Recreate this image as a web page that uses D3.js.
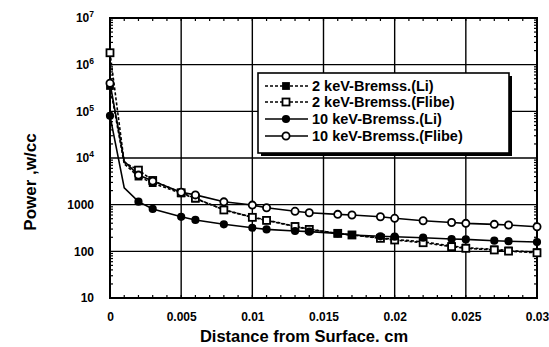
<!DOCTYPE html>
<html><head><meta charset="utf-8">
<script src="https://cdn.jsdelivr.net/npm/d3@7"></script>
<style>body{margin:0;background:#fff}svg{display:block}text{font-family:"Liberation Sans",Arial,sans-serif;font-weight:bold;fill:#000}</style>
</head><body><div id="chart"></div>
<script>
const distance = [0, 0.001, 0.002, 0.003, 0.005, 0.006, 0.008, 0.01, 0.011, 0.013, 0.014, 0.016, 0.017, 0.019, 0.02, 0.022, 0.024, 0.025, 0.027, 0.028, 0.03];
const li2 = [3.5e5, 7500, 4000, 2900, 1750, 1350, 780, 540, 470, 345, 300, 240, 226, 195, 180, 160, 130, 120, 110, 104, 96];
const flibe2 = [1.8e6, 8000, 5500, 3300, 1800, 1380, 770, 535, 460, 340, 295, 243, 224, 190, 175, 153, 126, 116, 107, 101, 93];
const li10 = [8e4, 2300, 1160, 810, 550, 470, 380, 320, 295, 273, 264, 243, 224, 210, 206, 196, 184, 180, 169, 165, 158];
const flibe10 = [4e5, 8500, 4300, 3200, 1850, 1620, 1150, 980, 860, 720, 670, 620, 600, 550, 510, 453, 415, 398, 379, 366, 337];
const unmarkedDistance = [0.001];
const seriesNames = ["2 keV-Bremss.(Li)", "2 keV-Bremss.(Flibe)", "10 keV-Bremss.(Li)", "10 keV-Bremss.(Flibe)"];
const xTicks = [0, 0.005, 0.01, 0.015, 0.02, 0.025, 0.03];
const xTickLabels = ["0", "0.005", "0.01", "0.015", "0.02", "0.025", "0.03"];
const yTicks = [10, 100, 1000, 1e4, 1e5, 1e6, 1e7];
const yTickLabels = ["10", "100", "1000", "10|4", "10|5", "10|6", "10|7"];
const xTitle = "Distance from Surface. cm";
const yTitle = "Power ,w/cc";

const W = 549, H = 347;
const L = 110, R = 537, T = 18, B = 298;
const svg = d3.select("#chart").append("svg").attr("width", W).attr("height", H);
const x = d3.scaleLinear().domain([0, 0.03]).range([L, R]);
const y = d3.scaleLog().domain([10, 1e7]).range([B, T]);

// gridlines
const g = svg.append("g");
g.selectAll(".gx").data(xTicks.slice(1, -1)).join("line")
  .attr("x1", d => x(d)).attr("x2", d => x(d)).attr("y1", T).attr("y2", B)
  .attr("stroke", "#000").attr("stroke-width", 1.4);
g.selectAll(".gy").data(yTicks.slice(1, -1)).join("line")
  .attr("y1", d => y(d)).attr("y2", d => y(d)).attr("x1", L).attr("x2", R)
  .attr("stroke", "#000").attr("stroke-width", 1.4);

// minor ticks
const xMinor = d3.range(0, 31).map(i => i * 0.001);
const yMinor = [];
[10, 100, 1000, 1e4, 1e5, 1e6].forEach(b => { for (let k = 2; k <= 9; k++) yMinor.push(b * k); });
const tk = svg.append("g").attr("stroke", "#000").attr("stroke-width", 1.2);
xMinor.forEach(d => {
  tk.append("line").attr("x1", x(d)).attr("x2", x(d)).attr("y1", B).attr("y2", B - 3);
  tk.append("line").attr("x1", x(d)).attr("x2", x(d)).attr("y1", T).attr("y2", T + 3);
});
yMinor.forEach(d => {
  tk.append("line").attr("y1", y(d)).attr("y2", y(d)).attr("x1", L).attr("x2", L + 3);
  tk.append("line").attr("y1", y(d)).attr("y2", y(d)).attr("x1", R).attr("x2", R - 3);
});

// frame
svg.append("rect").attr("x", L).attr("y", T).attr("width", R - L).attr("height", B - T)
  .attr("fill", "none").attr("stroke", "#000").attr("stroke-width", 2);

// axis labels via d3 axes
const xAxis = svg.append("g").attr("transform", `translate(0,${B})`)
  .call(d3.axisBottom(x).tickValues(xTicks).tickSize(0).tickPadding(14).tickFormat((d, i) => xTickLabels[i]));
xAxis.select(".domain").remove();
xAxis.selectAll("text").style("font-size", "12px").style("font-family", "'Liberation Sans',Arial,sans-serif").style("font-weight", "bold");

const yAxis = svg.append("g").attr("transform", `translate(${L},0)`)
  .call(d3.axisLeft(y).tickValues(yTicks).tickSize(0).tickPadding(16).tickFormat(""));
yAxis.select(".domain").remove();
yAxis.selectAll(".tick").each(function (d, i) {
  const t = d3.select(this).select("text").style("font-size", "12px")
    .style("font-family", "'Liberation Sans',Arial,sans-serif").style("font-weight", "bold");
  const lab = yTickLabels[i];
  if (lab.includes("|")) {
    const [b, e] = lab.split("|");
    t.text(null);
    t.append("tspan").text(b);
    t.append("tspan").attr("dy", -5).style("font-size", "8.5px").text(e);
  } else t.text(lab);
});

// titles
svg.append("text").attr("x", 304).attr("y", 342).attr("text-anchor", "middle")
  .style("font-size", "16.5px").text(xTitle);
svg.append("text").attr("transform", "translate(36,182) rotate(-90)").attr("text-anchor", "middle")
  .style("font-size", "17px").text(yTitle);

// series
const series = [
  {name: seriesNames[0], v: li2, dash: "3,2", marker: "sq", fill: "#000"},
  {name: seriesNames[1], v: flibe2, dash: "3,2", marker: "sq", fill: "#fff"},
  {name: seriesNames[2], v: li10, dash: null, marker: "ci", fill: "#000"},
  {name: seriesNames[3], v: flibe10, dash: null, marker: "ci", fill: "#fff"}
];
const line = d3.line().x(d => x(d[0])).y(d => y(d[1]));
function drawMarker(sel, s, px, py) {
  if (s.marker === "sq") {
    const sz = s.fill === "#000" ? 6 : 7;
    sel.append("rect").attr("x", px - sz / 2).attr("y", py - sz / 2).attr("width", sz).attr("height", sz)
      .attr("fill", s.fill).attr("stroke", "#000").attr("stroke-width", 1.8);
  } else {
    sel.append("circle").attr("cx", px).attr("cy", py).attr("r", s.fill === "#000" ? 3.2 : 3.6)
      .attr("fill", s.fill).attr("stroke", "#000").attr("stroke-width", 1.8);
  }
}
const plot = svg.append("g");
series.forEach(s => {
  const pts = distance.map((d, i) => [d, s.v[i]]);
  plot.append("path").attr("d", line(pts)).attr("fill", "none").attr("stroke", "#000")
    .attr("stroke-width", 1.6).attr("stroke-dasharray", s.dash);
  pts.filter(p => !unmarkedDistance.includes(p[0])).forEach(p => drawMarker(plot, s, x(p[0]), y(p[1])));
});

// legend
const lg = svg.append("g");
const lx = 258, ly = 73, lw = 251, lh = 80;
lg.append("rect").attr("x", lx + 3).attr("y", ly + 3).attr("width", lw).attr("height", lh).attr("fill", "#000");
lg.append("rect").attr("x", lx).attr("y", ly).attr("width", lw).attr("height", lh)
  .attr("fill", "#fff").attr("stroke", "#000").attr("stroke-width", 1.6);
const rowY = [86, 102, 119, 136];
series.forEach((s, i) => {
  const yy = rowY[i];
  lg.append("line").attr("x1", 265).attr("x2", 308).attr("y1", yy).attr("y2", yy)
    .attr("stroke", "#000").attr("stroke-width", 1.6).attr("stroke-dasharray", s.dash);
  drawMarker(lg, s, 286, yy);
  lg.append("text").attr("x", 312).attr("y", yy + 5).style("font-size", "14.5px").text(s.name);
});
</script></body></html>
